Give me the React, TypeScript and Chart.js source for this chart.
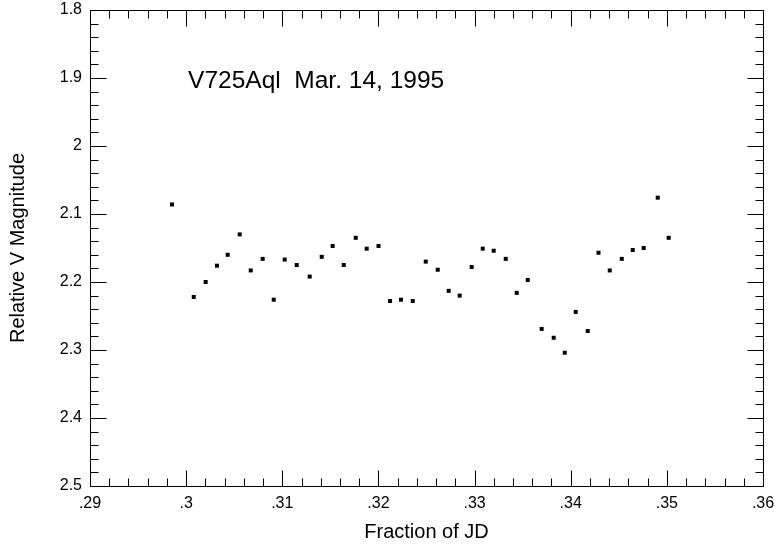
import React, { useEffect, useRef } from "react";
import { Chart, registerables } from "chart.js";

Chart.register(...registerables);

const jdFraction: number[] = [
  0.29853, 0.30079, 0.30203, 0.30321, 0.30432, 0.30557, 0.30672, 0.30796, 0.30911, 0.31025,
  0.3115, 0.31285, 0.3141, 0.31524, 0.31639, 0.31764, 0.31878, 0.32001, 0.32121, 0.32235,
  0.32357, 0.32492, 0.32617, 0.32731, 0.32845, 0.3297, 0.33085, 0.33199, 0.33324, 0.33438,
  0.33553, 0.33698, 0.33823, 0.33938, 0.34052, 0.34177, 0.34289, 0.34406, 0.34531, 0.34645,
  0.34759, 0.34905, 0.35019,
];
const relVMag: number[] = [
  2.086, 2.222, 2.2, 2.176, 2.16, 2.13, 2.183, 2.166, 2.226, 2.167,
  2.175, 2.192, 2.163, 2.147, 2.175, 2.135, 2.151, 2.147, 2.228, 2.226,
  2.228, 2.17, 2.182, 2.213, 2.22, 2.178, 2.151, 2.154, 2.166, 2.216,
  2.197, 2.269, 2.282, 2.304, 2.244, 2.272, 2.157, 2.183, 2.166, 2.153,
  2.15, 2.076, 2.135,
];
const xMin = 0.29, xMax = 0.36, xStep = 0.01;
const yMin = 1.8, yMax = 2.5, yStep = 0.1;
const minorDivisions = 5;
const annotationText = "V725Aql  Mar. 14, 1995";
const annotationX = 0.3002;
const annotationY = 1.915;
const xTitle = "Fraction of JD";
const yTitle = "Relative V Magnitude";

const FONT = '"Liberation Sans", Arial, sans-serif';

const frameTicks = {
  id: "frameTicks",
  afterDraw(chart: any) {
    const { ctx, chartArea: a, scales } = chart;
    const xs = scales.x, ys = scales.y;
    const al = (v: number) => Math.round(v) + 0.5;
    const L = al(a.left), R = al(a.right), T = al(a.top), B = al(a.bottom);
    ctx.save();
    ctx.strokeStyle = "#000";
    ctx.lineWidth = 1;
    ctx.beginPath();
    ctx.rect(L, T, R - L, B - T);
    const nx = Math.round((xMax - xMin) / xStep) * minorDivisions;
    for (let i = 0; i <= nx; i++) {
      const v = xMin + (i * xStep) / minorDivisions;
      const p = al(xs.getPixelForValue(v));
      const len = i % minorDivisions === 0 ? 16 : 8;
      ctx.moveTo(p, B); ctx.lineTo(p, B - len);
      ctx.moveTo(p, T); ctx.lineTo(p, T + len);
    }
    const ny = Math.round((yMax - yMin) / yStep) * minorDivisions;
    for (let i = 0; i <= ny; i++) {
      const v = yMin + (i * yStep) / minorDivisions;
      const p = al(ys.getPixelForValue(v));
      const len = i % minorDivisions === 0 ? 16 : 8;
      ctx.moveTo(L, p); ctx.lineTo(L + len, p);
      ctx.moveTo(R, p); ctx.lineTo(R - len, p);
    }
    ctx.stroke();
    ctx.fillStyle = "#000";
    ctx.font = `24.5px ${FONT}`;
    ctx.textAlign = "left";
    ctx.textBaseline = "alphabetic";
    ctx.fillText(annotationText, xs.getPixelForValue(annotationX), ys.getPixelForValue(annotationY));
    ctx.restore();
  },
};

export default function App() {
  const ref = useRef<HTMLCanvasElement>(null);
  useEffect(() => {
    if (!ref.current) return;
    const chart = new Chart(ref.current, {
      type: "scatter",
      data: {
        datasets: [
          {
            data: jdFraction.map((x, i) => ({ x, y: relVMag[i] })),
            pointStyle: "rect",
            pointRadius: 2.83,
            pointBorderWidth: 0,
            backgroundColor: "#000",
            borderColor: "#000",
          },
        ],
      },
      options: {
        responsive: false,
        animation: false,
        events: [],
        layout: { padding: { left: 0, top: 10, right: 12, bottom: 0 } },
        plugins: { legend: { display: false }, tooltip: { enabled: false } },
        scales: {
          x: {
            type: "linear",
            min: xMin,
            max: xMax,
            afterFit: (s: any) => { s.height = 58; s.paddingLeft = 0; s.paddingRight = 0; },
            grid: { display: false, drawTicks: false },
            border: { display: false },
            ticks: {
              stepSize: xStep,
              padding: 7.5,
              color: "#000",
              maxRotation: 0,
              font: { family: FONT, size: 16 },
              callback: (v: any) => Number(v).toFixed(2).replace(/0+$/, "").replace(/^0/, ""),
            },
            title: { display: true, text: xTitle, color: "#000", font: { family: FONT, size: 20 }, padding: { top: 0, bottom: 0 } },
          },
          y: {
            type: "linear",
            reverse: true,
            min: yMin,
            max: yMax,
            afterFit: (s: any) => { s.width = 90; s.paddingTop = 0; s.paddingBottom = 0; },
            grid: { display: false, drawTicks: false },
            border: { display: false },
            ticks: {
              stepSize: yStep,
              padding: 8,
              color: "#000",
              font: { family: FONT, size: 16 },
              callback: (v: any) => String(Number(Number(v).toFixed(1))),
            },
            title: { display: true, text: yTitle, color: "#000", font: { family: FONT, size: 20 }, padding: { top: 6, bottom: 0 } },
          },
        },
      },
      plugins: [frameTicks],
    });
    return () => chart.destroy();
  }, []);
  return (
    <div style={{ position: "fixed", left: 0, top: 0, width: 775, height: 544, background: "#fff" }}>
      <canvas ref={ref} width={775} height={544} />
    </div>
  );
}
